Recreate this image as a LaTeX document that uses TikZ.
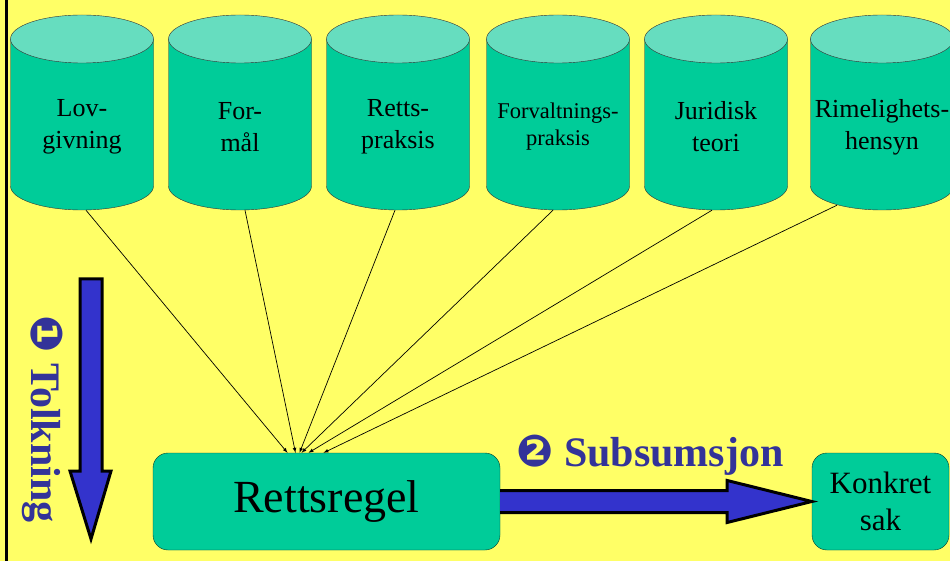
\documentclass[tikz,border=0pt]{standalone}
\usepackage{fontspec}
\setmainfont{Liberation Serif}
\newfontfamily\dingfont{DejaVu Sans}
\usetikzlibrary{calc}

\definecolor{slidebg}{HTML}{FFFF66}
\definecolor{dbbody}{HTML}{00CC99}
\definecolor{dbtop}{HTML}{66DDBF}
\definecolor{arrowblue}{HTML}{3333CC}
\definecolor{labelblue}{HTML}{333399}

\tikzset{
  source/.style={minimum width=143pt, minimum height=166pt, align=center,
    inner sep=0pt, font=\fontsize{26}{32}\selectfont},
  dbside/.style={fill=dbbody, draw=black!80, thin},
  dbend/.style={fill=dbtop, draw=black!80, thin},
  rulebox/.style={draw=black!70!dbbody, fill=dbbody, rounded corners=15pt},
  feed/.style={->, >=latex, line width=0.7pt},
  fatarrow/.style={fill=arrowblue, draw=black, line width=3pt, line join=miter},
  steplabel/.style={text=labelblue, font=\fontsize{42}{42}\selectfont\bfseries}
}

% kilde: navn, x, tekst
\newcommand\kilde[4][]{%
  \draw[dbside] (#3-71.5,39) -- (#3-71.5,186)
    arc[start angle=180, end angle=0, x radius=71.5, y radius=24] -- (#3+71.5,39) -- cycle;
  \draw[dbend] (#3,39) ellipse[x radius=71.5, y radius=24];
  \node[source,#1] (#2) at (#3,127) {#4};
}

\begin{document}
\begin{tikzpicture}[x=1pt, y=-1pt]
  \useasboundingbox (0,0) rectangle (950,561);
  \fill[slidebg] (0,0) rectangle (950,561);
  \draw[line width=3pt] (6.5,0) -- (6.5,561);

  % kildene
  \kilde{lov}{82}{Lov-\\givning}
  \kilde{formal}{240}{For-\\mål}
  \kilde{praksis}{398}{Retts-\\praksis}
  \kilde[font=\fontsize{22.5}{27}\selectfont]{forv}{558}{Forvaltnings-\\praksis}
  \kilde{teori}{716}{Juridisk\\teori}
  \kilde{rimelig}{882}{Rimelighets-\\hensyn}

  % regelen og saken
  \node[rulebox, minimum width=347pt, minimum height=97pt,
    font=\fontsize{46}{46}\selectfont] (regel) at (326.5,501.5) {Rettsregel};
  \node[rulebox, minimum width=137pt, minimum height=97pt, align=center,
    font=\fontsize{31}{37}\selectfont] (sak) at (880.5,501.5) {Konkret\\sak};

  % kilder inn i regelen
  \draw[feed] ([xshift=4pt]lov.south) -- ([xshift=-39pt]regel.north);
  \draw[feed] ([xshift=5pt]formal.south) -- ([xshift=-31pt]regel.north);
  \draw[feed] ([xshift=-3pt]praksis.south) -- ([xshift=-27pt]regel.north);
  \draw[feed] ([xshift=-5pt]forv.south) -- ([xshift=-25pt]regel.north);
  \draw[feed] ([xshift=-4pt]teori.south) -- ([xshift=-18pt]regel.north);
  \draw[feed] ($(rimelig.south)+(-45,-5)$) -- ([xshift=-3pt]regel.north);

  % tolkning
  \draw[fatarrow] (80,279) -- (102,279) -- (102,471) -- (111,471) -- (91,539)
    -- (70,471) -- (80,471) -- cycle;
  \node[steplabel, rotate=-90] (tolk) at (43,419) {{\dingfont\fontsize{44}{44}\selectfont ❶} Tolkning};

  % subsumsjon
  \draw[fatarrow] ($(regel.east)+(0,-11)$) -- ($(regel.east)+(227,-11)$)
    -- ($(regel.east)+(227,-21)$) -- (sak.west) -- ($(regel.east)+(227,21)$)
    -- ($(regel.east)+(227,11)$) -- ($(regel.east)+(0,11)$);
  \node[steplabel] (subs) at (650,455) {{\dingfont\fontsize{44}{44}\selectfont ❷} Subsumsjon};
\end{tikzpicture}
\end{document}
